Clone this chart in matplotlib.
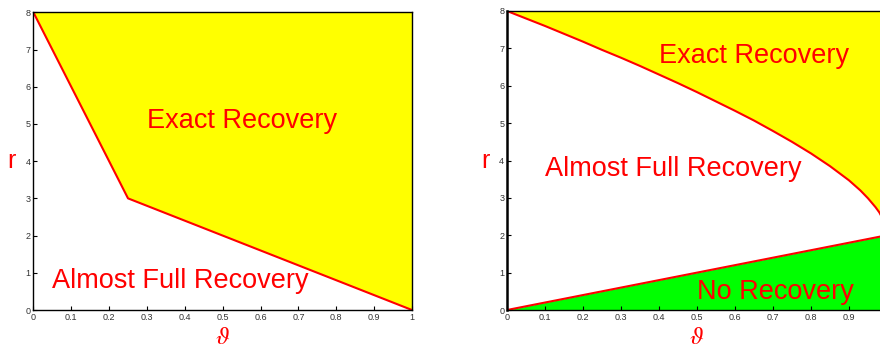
import matplotlib
matplotlib.use("Agg")
import matplotlib.pyplot as plt

plt.rcParams["font.family"] = ["Liberation Sans", "DejaVu Sans"]
plt.rcParams["mathtext.fontset"] = "stix"

RED = "#FF0000"
YELLOW = "#FFFF00"
GREEN = "#00FF00"

# left panel: boundary between exact and almost full recovery
theta_left = [0.0, 0.25, 1.0]
r_left = [8.0, 3.0, 0.0]

# right panel: upper boundary (exact recovery)
theta_upper = [0.0, 0.05, 0.1, 0.15, 0.2, 0.25, 0.3, 0.35, 0.4, 0.45, 0.5,
               0.55, 0.6, 0.65, 0.7, 0.75, 0.8, 0.85, 0.9, 0.93, 0.95,
               0.97, 0.98, 0.99, 1.0]
r_upper = [8.0, 7.80, 7.60, 7.39, 7.18, 6.96, 6.75, 6.53, 6.30, 6.07, 5.83,
           5.58, 5.33, 5.07, 4.79, 4.50, 4.19, 3.85, 3.47, 3.20, 2.99,
           2.75, 2.61, 2.42, 2.0]

# right panel: lower boundary (no recovery)
theta_lower = [0.0, 1.0]
r_lower = [0.0, 2.0]

xticks = [0, 0.1, 0.2, 0.3, 0.4, 0.5, 0.6, 0.7, 0.8, 0.9, 1]
xticklabels = ["0", "0.1", "0.2", "0.3", "0.4", "0.5", "0.6", "0.7", "0.8", "0.9", "1"]
yticks = [0, 1, 2, 3, 4, 5, 6, 7, 8]

fig = plt.figure(figsize=(8.8, 3.49), dpi=100)
ax1 = fig.add_axes([0.0379, 0.1117, 0.4303, 0.8531])
ax2 = fig.add_axes([0.5761, 0.1117, 0.4318, 0.8568])


def style(ax, labels):
    ax.set_xlim(0, 1)
    ax.set_ylim(0, 8)
    ax.set_xticks(xticks)
    ax.set_xticklabels(labels)
    ax.set_yticks(yticks)
    ax.tick_params(direction="in", length=3, width=0.8, labelsize=6.5,
                   labelcolor="#333333", pad=2)
    for s in ax.spines.values():
        s.set_linewidth(1.0)
    ax.set_ylabel("r", color=RED, fontsize=18, rotation=0, labelpad=10,
                  va="center")
    ax.set_xlabel(r"$\vartheta$", color=RED, fontsize=18, labelpad=2)


# ── left panel ───────────────────────────────────────────────────
ax1.fill_between(theta_left, r_left, 8, color=YELLOW, linewidth=0)
ax1.plot(theta_left, r_left, color=RED, lw=1.5)
style(ax1, xticklabels)
ax1.text(0.551, 5.09, "Exact Recovery", color=RED, fontsize=19.5,
         ha="center", va="center")
ax1.text(0.387, 0.78, "Almost Full Recovery", color=RED, fontsize=19.5,
         ha="center", va="center")

# ── right panel ──────────────────────────────────────────────────
ax2.fill_between(theta_upper, r_upper, 8, color=YELLOW, linewidth=0)
ax2.fill_between(theta_lower, 0, r_lower, color=GREEN, linewidth=0)
ax2.plot(theta_upper, r_upper, color=RED, lw=1.5)
ax2.plot(theta_lower, r_lower, color=RED, lw=1.5)
# the last tick label falls outside the picture in the original
style(ax2, xticklabels[:-1] + [""])
ax2.spines["left"].set_linewidth(1.8)
ax2.text(0.65, 6.80, "Exact Recovery", color=RED, fontsize=19.5,
         ha="center", va="center")
ax2.text(0.438, 3.77, "Almost Full Recovery", color=RED, fontsize=19.5,
         ha="center", va="center")
ax2.text(0.707, 0.49, "No Recovery", color=RED, fontsize=19.5,
         ha="center", va="center")

fig.savefig("out.png", dpi=100)
